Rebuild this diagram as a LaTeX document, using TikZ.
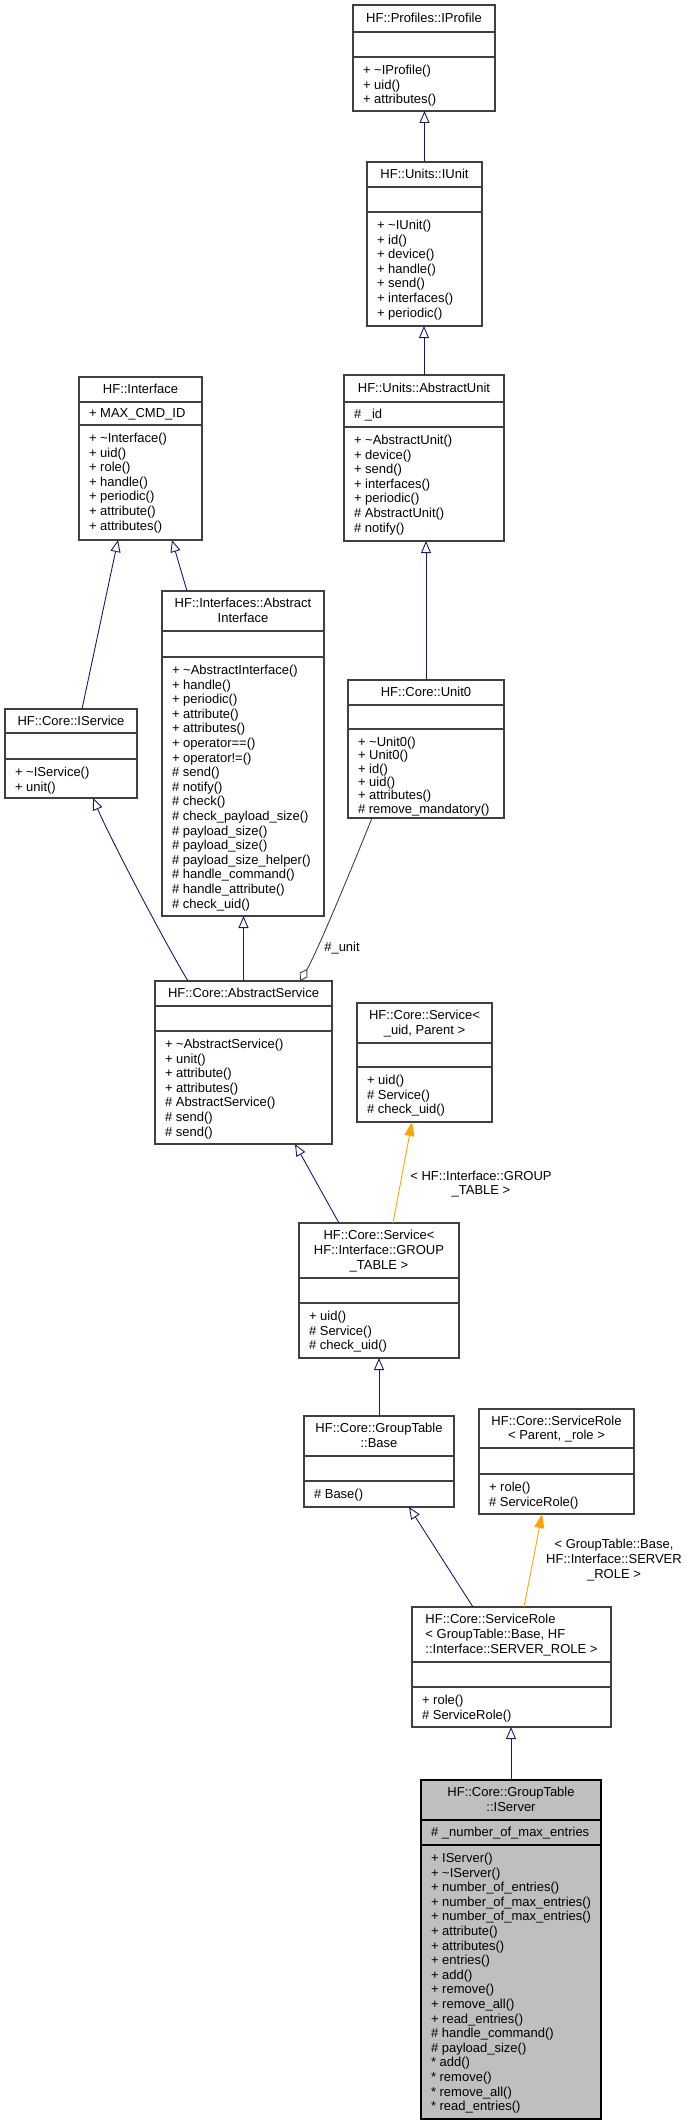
\documentclass[tikz,border=0pt]{standalone}
\usepackage{fontspec}
\setmainfont{Liberation Sans}
\usetikzlibrary{arrows.meta,fit}
\definecolor{boxgray}{HTML}{404040}
\definecolor{navy}{HTML}{191970}
\definecolor{tmplorange}{HTML}{FFA500}
\definecolor{mainfill}{HTML}{BFBFBF}
\newcommand\dfont{\fontsize{13}{14.6}\selectfont}
\newcommand\lstrut{\rule[-3.5pt]{0pt}{14pt}}
\newcommand\UMLclass[9]{%
  \coordinate (#1-nw) at (#2,#3);
  \coordinate (#1-se) at (#4,#5);
  \node[umlbox, fit=(#1-nw)(#1-se)] (#1) {};
  \draw[sepline] (#2,#6) -- (#4,#6);
  \draw[sepline] (#2,#7) -- (#4,#7);
  \node[txt, titlestyle] (#1-title) at ({(#2+#4)/2},{(#3+#6)/2+0.5}) {#8};
  \node[txt, opsstyle, anchor=north west, align=left] (#1-ops) at (#2+10,#7+7) {\lstrut #9};
}
\begin{document}
\begin{tikzpicture}[x=1pt,y=-1pt,
  umlbox/.style={draw=boxgray, line width=1.2pt, fill=white, inner sep=0pt, outer sep=0pt},
  sepline/.style={draw=boxgray, line width=1.2pt},
  txt/.style={font=\dfont, inner sep=0pt, outer sep=0pt, text=black},
  titlestyle/.style={align=center},
  opsstyle/.style={},
  inherit/.style={draw=navy, line width=0.9pt, -{Triangle[open, length=12pt, width=10pt, fill=white]}},
  template/.style={draw=tmplorange, line width=0.9pt, -{Triangle[length=14pt, width=10pt]}},
  usage/.style={draw=boxgray, line width=0.9pt, -{Diamond[open, length=14pt, width=9pt, fill=white]}}
]
\useasboundingbox (0,0) rectangle (691,2124);

\UMLclass{iprofile}{353}{5}{495}{111}{32}{57}{\lstrut HF::Profiles::IProfile}%
  {+ \textasciitilde IProfile()\\+ uid()\\+ attributes()}

\UMLclass{iunit}{367}{162}{482}{326}{187}{212}{\lstrut HF::Units::IUnit}%
  {+ \textasciitilde IUnit()\\+ id()\\+ device()\\+ handle()\\+ send()\\+ interfaces()\\+ periodic()}

\UMLclass{abstractunit}{344}{375}{504}{541}{402}{427}{\lstrut HF::Units::AbstractUnit}%
  {+ \textasciitilde AbstractUnit()\\+ device()\\+ send()\\+ interfaces()\\+ periodic()\\\# AbstractUnit()\\\# notify()}
\node[txt, anchor=west] (abstractunit-attr) at (354,415) {\lstrut\# \_id};

\UMLclass{interface}{79}{377}{202}{540}{402}{425}{\lstrut HF::Interface}%
  {+ \textasciitilde Interface()\\+ uid()\\+ role()\\+ handle()\\+ periodic()\\+ attribute()\\+ attributes()}
\node[txt, anchor=west] (interface-attr) at (89,414) {\lstrut + MAX\_CMD\_ID};

\UMLclass{abstractinterface}{162}{591}{324}{916}{631}{657}{\lstrut HF::Interfaces::Abstract\\\lstrut Interface}%
  {+ \textasciitilde AbstractInterface()\\+ handle()\\+ periodic()\\+ attribute()\\+ attributes()\\+ operator==()\\+ operator!=()\\\# send()\\\# notify()\\\# check()\\\# check\_payload\_size()\\\# payload\_size()\\\# payload\_size()\\\# payload\_size\_helper()\\\# handle\_command()\\\# handle\_attribute()\\\# check\_uid()}

\tikzset{opsstyle/.style={font=\fontsize{13}{13.3}\selectfont}}
\UMLclass{unit0}{348}{680}{504}{818}{705}{729}{\lstrut HF::Core::Unit0}%
  {+ \textasciitilde Unit0()\\+ Unit0()\\+ id()\\+ uid()\\+ attributes()\\\# remove\_mandatory()}
\tikzset{opsstyle/.style={}}

\UMLclass{iservice}{5}{709}{137}{798}{733}{759}{\lstrut HF::Core::IService}%
  {+ \textasciitilde IService()\\+ unit()}

\UMLclass{abstractservice}{155}{981}{332}{1144}{1006}{1031}{\lstrut HF::Core::AbstractService}%
  {+ \textasciitilde AbstractService()\\+ unit()\\+ attribute()\\+ attributes()\\\# AbstractService()\\\# send()\\\# send()}

\UMLclass{servuid}{357}{1003}{492}{1122}{1043}{1067}{\lstrut HF::Core::Service<\\\lstrut \_uid, Parent >}%
  {+ uid()\\\# Service()\\\# check\_uid()}

\UMLclass{servgt}{299}{1223}{459}{1358}{1278}{1303}{\lstrut HF::Core::Service<\\\lstrut HF::Interface::GROUP\\\lstrut \_TABLE >}%
  {+ uid()\\\# Service()\\\# check\_uid()}

\UMLclass{gtbase}{304}{1416}{454}{1507}{1456}{1481}{\lstrut HF::Core::GroupTable\\\lstrut ::Base}%
  {\# Base()}

\UMLclass{srpr}{479}{1409}{634}{1514}{1448}{1474}{\lstrut HF::Core::ServiceRole\\\lstrut < Parent, \_role >}%
  {+ role()\\\# ServiceRole()}

\tikzset{titlestyle/.style={align=left}}
\UMLclass{srgt}{412}{1607}{611}{1727}{1662}{1687}{\lstrut HF::Core::ServiceRole\\\lstrut < GroupTable::Base, HF\\\lstrut ::Interface::SERVER\_ROLE >}%
  {+ role()\\\# ServiceRole()}
\tikzset{titlestyle/.style={align=center}}

\tikzset{umlbox/.style={draw=black, line width=1.2pt, fill=mainfill, inner sep=0pt, outer sep=0pt},
  sepline/.style={draw=black, line width=1.2pt}}
\UMLclass{iserver}{421}{1780}{601}{2119}{1820}{1845}{\lstrut HF::Core::GroupTable\\\lstrut ::IServer}%
  {+ IServer()\\+ \textasciitilde IServer()\\+ number\_of\_entries()\\+ number\_of\_max\_entries()\\+ number\_of\_max\_entries()\\+ attribute()\\+ attributes()\\+ entries()\\+ add()\\+ remove()\\+ remove\_all()\\+ read\_entries()\\\# handle\_command()\\\# payload\_size()\\* add()\\* remove()\\* remove\_all()\\* read\_entries()}
\node[txt, anchor=west] (iserver-attr) at (431,1833) {\lstrut\# \_number\_of\_max\_entries};

% connectors
\draw[inherit] (iunit.north) -- (iunit.north |- iprofile.south);
\draw[inherit] (abstractunit.north) -- (abstractunit.north |- iunit.south);
\draw[inherit] (unit0.north) -- (unit0.north |- abstractunit.south);
\draw[inherit] ([xshift=25pt]abstractinterface.north west) -- ([xshift=93pt]interface.south west);
\draw[inherit] ([xshift=77pt]iservice.north west) -- ([xshift=39pt]interface.south west);
\draw[inherit] ([xshift=33pt]abstractservice.north west) .. controls +(-24,-40) and +(17,40) .. ([xshift=88pt]iservice.south west);
\draw[inherit] (abstractservice.north) -- (abstractservice.north |- abstractinterface.south);
\draw[usage] ([xshift=24pt]unit0.south west) .. controls +(-10,25) and +(18,-30) .. ([xshift=145pt]abstractservice.north west);
\node[txt] (lbl-unit) at (342,948) {\lstrut\#\_unit};
\draw[inherit] ([xshift=40pt]servgt.north west) -- ([xshift=140pt]abstractservice.south west);
\draw[template] ([xshift=94pt]servgt.north west) -- ([xshift=55pt]servuid.south west);
\node[txt, align=center] (lbl-gt) at (481,1184) {\lstrut < HF::Interface::GROUP\\\lstrut \_TABLE >};
\draw[inherit] (gtbase.north) -- (gtbase.north |- servgt.south);
\draw[inherit] ([xshift=61pt]srgt.north west) -- ([xshift=105pt]gtbase.south west);
\draw[template] ([xshift=112pt]srgt.north west) -- ([xshift=63pt]srpr.south west);
\node[txt, align=center] (lbl-sr) at (614,1560) {\lstrut < GroupTable::Base,\\\lstrut HF::Interface::SERVER\\\lstrut \_ROLE >};
\draw[inherit] (iserver.north) -- (iserver.north |- srgt.south);
\end{tikzpicture}
\end{document}
